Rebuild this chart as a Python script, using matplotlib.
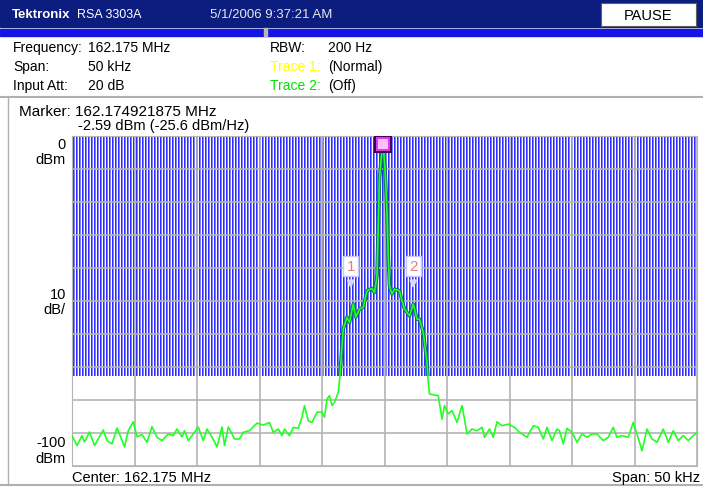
import numpy as np
import matplotlib
matplotlib.use("Agg")
import matplotlib.pyplot as plt
from matplotlib.patches import Rectangle

# trace readout: offset from center (kHz) and level (dBm)
freq_khz = [-25.0, -24.6, -24.2, -24.0, -23.6, -23.2, -22.9, -22.5, -22.2, -21.8,
            -21.4, -21.2, -20.8, -20.5, -20.1, -19.8, -19.4, -19.0, -18.6, -18.2,
            -17.8, -17.3, -16.9, -16.6, -16.2, -16.0, -15.7, -15.3, -14.9, -14.5,
            -14.2, -13.8, -13.4, -13.0, -12.8, -12.5, -12.4, -12.0, -11.6, -11.3,
            -10.8, -10.2, -9.7, -9.2, -8.9, -8.5, -8.2, -8.0, -7.6, -7.3,
            -6.9, -6.6, -6.4, -6.1, -5.8, -5.4, -5.0, -4.8, -4.6, -4.4,
            -4.2, -4.0, -3.7, -3.6, -3.3, -3.0, -2.8, -2.5, -2.3, -2.0,
            -1.7, -1.4, -1.0, -0.8, -0.6, -0.5, -0.4, -0.2, -0.1, 0.04,
            0.2, 0.3, 0.4, 0.6, 0.8, 1.2, 1.4, 1.6, 2.0, 2.3,
            2.6, 2.8, 3.1, 3.4, 3.5, 3.6, 4.3, 4.6, 4.8, 5.1,
            5.4, 5.8, 6.2, 6.4, 6.6, 7.0, 7.4, 7.8, 8.0, 8.4,
            8.7, 9.0, 9.4, 9.9, 10.4, 10.8, 11.4, 11.9, 12.3, 12.7,
            13.0, 13.4, 13.8, 14.0, 14.3, 14.6, 15.0, 15.4, 15.8, 16.2,
            16.6, 17.0, 17.5, 17.9, 18.3, 18.6, 19.0, 19.5, 19.9, 20.2,
            20.6, 21.0, 21.4, 21.8, 22.3, 22.7, 23.1, 23.5, 23.9, 24.3,
            24.7, 25.0]
level_dbm = [-90.8, -93.8, -90.8, -92.7, -89.7, -93.8, -91.8, -89.1, -92.3, -93.3,
             -88.5, -90.3, -94.2, -89.3, -86.6, -91.1, -90.5, -92.8, -88.1, -91.3,
             -92.3, -90.3, -90.8, -88.8, -91.2, -89.3, -92.3, -90.3, -88.2, -92.3,
             -88.8, -91.2, -94.2, -88.2, -93.8, -88.2, -88.8, -91.8, -91.8, -89.8,
             -89.3, -87.0, -87.6, -86.8, -89.8, -88.8, -90.8, -88.8, -90.8, -88.3,
             -88.6, -85.2, -81.7, -86.3, -86.8, -83.7, -83.7, -85.2, -79.7, -78.7,
             -81.7, -80.7, -77.7, -74.2, -58.5, -54.9, -56.5, -50.9, -54.9, -52.4,
             -51.9, -46.9, -46.2, -47.4, -42.3, -28.2, -13.0, -3.9, -2.6, -10.0,
             -23.1, -36.3, -45.4, -47.9, -46.4, -46.9, -49.9, -52.4, -54.5, -50.9,
             -55.5, -55.5, -59.5, -68.6, -74.6, -78.2, -78.7, -85.8, -81.7, -84.2,
             -83.2, -86.8, -81.7, -85.8, -90.3, -88.8, -89.3, -88.3, -91.3, -88.8,
             -91.3, -86.6, -87.8, -87.3, -88.3, -89.8, -91.3, -87.8, -88.3, -91.8,
             -88.3, -92.3, -88.8, -89.3, -93.3, -88.6, -89.8, -92.8, -90.3, -91.3,
             -90.3, -90.3, -92.3, -91.3, -88.3, -91.3, -90.8, -91.3, -86.8, -90.3,
             -95.4, -88.8, -91.8, -92.8, -88.8, -92.8, -89.3, -92.3, -90.8, -92.3,
             -90.8, -89.8]

peak_khz, peak_dbm = -0.1, -2.59
delta_markers = [("1", -2.7), ("2", 2.3)]
blue_floor = -72.7

info_left = [("Frequency:", "162.175 MHz"), ("Span:", "50 kHz"), ("Input Att:", "20 dB")]
info_right = [("RBW:", "200 Hz", "black"), ("Trace 1:", "(Normal)", "#ffff00"),
              ("Trace 2:", "(Off)", "#00e000")]

plt.rcParams["font.family"] = ["Liberation Sans", "DejaVu Sans"]
W, H = 703, 489
fig = plt.figure(figsize=(W / 100, H / 100), dpi=100)

# overlay in pixel coordinates for the instrument frame
bg = fig.add_axes([0, 0, 1, 1])
bg.set_xlim(0, W)
bg.set_ylim(H, 0)
bg.axis("off")
bg.add_patch(Rectangle((0, 0), W, 28, color="#0c1d80"))
bg.add_patch(Rectangle((0, 30), W, 7, color="#1414e6"))
bg.add_patch(Rectangle((264, 29), 3, 8, color="#b8b8b8"))
bg.add_patch(Rectangle((601, 4), 95, 23, facecolor="white", edgecolor="#606060", lw=0.8))
bg.text(12, 15, "Tektronix", color="white", fontsize=9.5, fontweight="bold", va="center")
bg.text(77, 15, "RSA 3303A", color="white", fontsize=9, va="center")
bg.text(210, 15, "5/1/2006 9:37:21 AM", color="#e6e6e6", fontsize=9.5, va="center")
bg.text(648, 16, "PAUSE", color="black", fontsize=10.5, ha="center", va="center")
for i, (k, v) in enumerate(info_left):
    bg.text(13, 48 + 19 * i, k, fontsize=10, va="center")
    bg.text(88, 48 + 19 * i, v, fontsize=10, va="center")
for i, (k, v, c) in enumerate(info_right):
    bg.text(270, 48 + 19 * i, k, fontsize=10, va="center", color=c)
    bg.text(328, 48 + 19 * i, v, fontsize=10, va="center")
bg.plot([0, W], [98, 98], color="#b0b0b0", lw=1.5)
bg.plot([8, 8], [98, 486], color="#b0b0b0", lw=1)
bg.plot([0, W], [486, 486], color="#b0b0b0", lw=1.5)
bg.text(19, 112, "Marker: 162.174921875 MHz", fontsize=11, va="center")
bg.text(78, 126, "-2.59 dBm (-25.6 dBm/Hz)", fontsize=10.5, va="center")
bg.text(66, 145, "0", fontsize=10.5, ha="right", va="center")
bg.text(66, 160, "dBm", fontsize=10.5, ha="right", va="center")
bg.text(66, 295, "10", fontsize=10.5, ha="right", va="center")
bg.text(66, 310, "dB/", fontsize=10.5, ha="right", va="center")
bg.text(66, 443, "-100", fontsize=10.5, ha="right", va="center")
bg.text(66, 459, "dBm", fontsize=10.5, ha="right", va="center")
bg.text(72, 478, "Center: 162.175 MHz", fontsize=10.5, va="center")
bg.text(700, 478, "Span: 50 kHz", fontsize=10.5, ha="right", va="center")

ax = fig.add_axes([72 / W, (H - 467) / H, 625 / W, 330 / H])
ax.set_xlim(-25, 25)
ax.set_ylim(-100, 0)

# striped blue region
pal = np.array([[1, 1, 1], [0.18, 0.18, 1.0], [0.5, 0.5, 1.0]])
cols = np.arange(625) % 3
stripe = pal[cols][None, :, :]
ax.imshow(stripe, extent=(-25, 25, blue_floor, 0), aspect="auto", zorder=0,
          interpolation="nearest")

ax.set_xticks(np.linspace(-25, 25, 11))
ax.set_yticks(np.linspace(-100, 0, 11))
ax.grid(True, color="#b4b4b4", lw=1.2, zorder=1)
ax.tick_params(length=0, labelbottom=False, labelleft=False)
for s in ax.spines.values():
    s.set_color("#b4b4b4")

clip = Rectangle((-25, blue_floor), 50, -blue_floor, transform=ax.transData)
under, = ax.plot(freq_khz, level_dbm, color="#0a6e70", lw=2.6, zorder=2)
under.set_clip_path(clip)
ax.plot(freq_khz, level_dbm, color="#22ff22", lw=1.2, zorder=3)

for lab, f in delta_markers:
    ax.annotate("", xy=(f, -47), xytext=(f, -43),
                arrowprops=dict(arrowstyle="-|>", color="#d8d8ff", lw=1.5), zorder=4)
    ax.text(f, -39.5, lab, color="#e08080", fontsize=11, ha="center", va="center",
            bbox=dict(boxstyle="square,pad=0.2", fc="white", ec="#c8c8ff"), zorder=5)

ax.plot(peak_khz, peak_dbm + 0.2, marker="s", ms=11, mfc="#ffc0ff", mec="#400060",
        mew=1.5, zorder=6)
ax.plot(peak_khz, peak_dbm + 0.2, marker="s", ms=8, mfc="none", mec="#e020e0",
        mew=1.2, zorder=7)

fig.savefig("out.png", dpi=100)
